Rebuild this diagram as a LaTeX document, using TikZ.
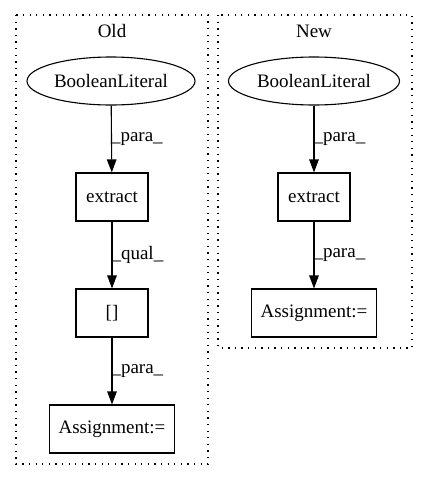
\documentclass[tikz,border=0pt]{standalone}
\usepackage{fontspec}
\setmainfont{Liberation Serif}
\usetikzlibrary{arrows.meta,shapes.geometric}

\tikzset{
    every node/.style={font=\fontsize{19}{21}\selectfont},
    opbox/.style={draw, line width=1.1, rectangle, minimum height=48, inner sep=0},
    litnode/.style={draw, line width=1.1, ellipse, minimum height=48, inner sep=0},
    cluster/.style={draw, line width=1.1, dash pattern=on 1.3pt off 5.3pt},
    flow/.style={-{Triangle[length=13pt,width=9.5pt]}, line width=1.1},
    elabel/.style={anchor=west, inner sep=0}
}

\begin{document}
\begin{tikzpicture}[x=1pt, y=-1pt]
        \useasboundingbox (0, 0) rectangle (427, 480);
        % clusters
        \draw[cluster] (16, 15) rectangle (208, 464);
        \node (oldtitle) at (112, 31) {Old};
        \draw[cluster] (218, 15) rectangle (412, 348);
        \node (newtitle) at (314, 31) {New};

        % old
        \node[litnode, minimum width=168] (oldlit) at (111, 81) {BooleanLiteral};
        \node[opbox, minimum width=72] (oldextract) at (112, 197) {extract};
        \node[opbox, minimum width=72] (oldindex) at (112, 313) {[]};
        \node[opbox, minimum width=125] (oldassign) at (112, 429) {Assignment:=};
        \draw[flow] (oldlit) -- (oldextract) node[elabel, midway, xshift=-1]{\_para\_};
        \draw[flow] (oldextract) -- (oldindex) node[elabel, midway, xshift=-1]{\_qual\_};
        \draw[flow] (oldindex) -- (oldassign) node[elabel, midway, xshift=-1]{\_para\_};

        % new
        \node[litnode, minimum width=171] (newlit) at (314, 81) {BooleanLiteral};
        \node[opbox, minimum width=72] (newextract) at (314, 197) {extract};
        \node[opbox, minimum width=125] (newassign) at (314, 313) {Assignment:=};
        \draw[flow] (newlit) -- (newextract) node[elabel, midway, xshift=-1]{\_para\_};
        \draw[flow] (newextract) -- (newassign) node[elabel, midway, xshift=-1]{\_para\_};
\end{tikzpicture}
\end{document}
